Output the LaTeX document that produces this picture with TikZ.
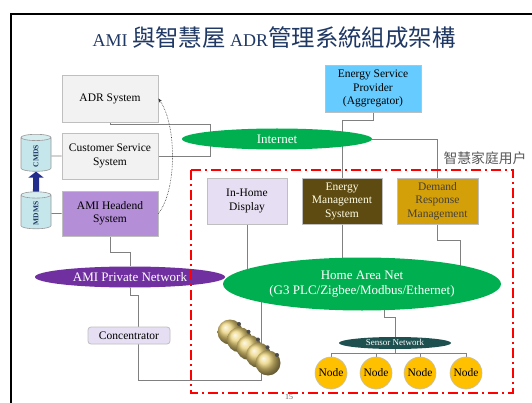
\documentclass[tikz,border=0pt]{standalone}
\usepackage{fontspec}
\setmainfont{Liberation Serif}
\newfontfamily\cjk{Noto Sans CJK TC}[Scale=1.2]
\newfontfamily\cjktitle{Noto Sans CJK TC}[Scale=1.3]
\usetikzlibrary{arrows.meta,positioning,shapes.geometric}
\definecolor{navy}{RGB}{31,56,100}
\definecolor{edge}{RGB}{191,191,191}
\definecolor{wire}{RGB}{128,128,128}
\definecolor{paleg}{RGB}{242,242,242}
\definecolor{headend}{RGB}{180,142,215}
\definecolor{sky}{RGB}{102,204,255}
\definecolor{lilac}{RGB}{230,222,242}
\definecolor{umber}{RGB}{94,75,18}
\definecolor{gold}{RGB}{212,160,10}
\definecolor{brass}{RGB}{235,210,120}
\definecolor{netgreen}{RGB}{0,176,80}
\definecolor{netpurple}{RGB}{112,48,160}
\definecolor{teal}{RGB}{30,80,80}
\definecolor{amber}{RGB}{255,192,0}
\definecolor{store}{RGB}{197,230,234}
\definecolor{royal}{RGB}{35,45,140}
\pgfdeclarelayer{bg}
\pgfsetlayers{bg,main}

\begin{document}
\begin{tikzpicture}[
    x=1pt, y=-1pt,
    node distance=8pt,
    every node/.style={font=\fontsize{11.5}{13.5}\selectfont},
    box/.style={
      rectangle,
      draw=edge,
      line width=0.8pt,
      fill=paleg,
      align=center,
      inner sep=1pt,
      minimum width=96,
      minimum height=46
    },
    smallbox/.style={box, minimum width=80},
    net/.style={
      ellipse,
      fill=netgreen,
      text=white,
      inner sep=0pt,
      align=center,
      font=\fontsize{13}{15}\selectfont
    },
    db/.style={
      cylinder,
      draw=edge!80!black,
      line width=0.6pt,
      cylinder uses custom fill,
      cylinder body fill=store,
      cylinder end fill=store!70!white,
      aspect=0.25,
      shape border rotate=90,
      minimum width=30,
      minimum height=37,
      inner xsep=10pt,
      inner ysep=0pt,
      text=navy,
      font=\fontsize{7.5}{8}\selectfont\bfseries
    },
    sensor/.style={
      circle,
      draw=edge,
      line width=0.6pt,
      fill=amber,
      minimum size=32,
      inner sep=0pt
    },
    conn/.style={draw=wire, line width=0.8pt},
    uparr/.style={-{Triangle[length=6pt,width=15pt]}, line width=6pt, draw=royal}
  ]
    \useasboundingbox (0,0) rectangle (532,403);
    \draw[line width=2pt] (10.5,403) -- (10.5,14) -- (532,14);

    \node[font=\fontsize{18}{20}\selectfont, text=navy] (head) at (274,38)
      {AMI {\cjktitle 與智慧屋} ADR{\cjktitle 管理系統組成架構}};

    \node[box, minimum height=47] (adr) at (110,98.5) {ADR System};
    \node[box] (css) at (110,156) {Customer Service\\System};
    \node[box, fill=headend, minimum height=45] (ami) at (110,213.5) {AMI Headend\\System};
    \node[box, fill=sky, minimum height=47] (esp) at (373,88.5) {Energy Service\\Provider\\(Aggregator)};

    \node[db] (cmds) at (36,156) {\rotatebox{90}{CMDS}};
    \node[db] (mdms) at (36,213.5) {\rotatebox{90}{MDMS}};

    \node[smallbox, fill=lilac] (ihd) at (247,201) {In-Home\\Display};
    \node[smallbox, fill=umber, text=white!90!yellow] (ems) at (342,201) {Energy\\Management\\System};
    \node[smallbox, fill=gold, text=black!85!yellow, minimum width=81] (drm) at (437.5,201) {Demand\\Response\\Management};

    \node[box, fill=lilac, rounded corners=3pt, minimum width=82, minimum height=17] (conc) at (129,335.5) {Concentrator};

    \node[net, minimum width=190, minimum height=21] (inet) at (277,139) {Internet};
    \node[net, fill=netpurple, minimum width=190, minimum height=21] (apn) at (130,277) {AMI Private Network};
    \node[net, minimum width=278, minimum height=53] (han) at (362,284) {Home Area Net\\(G3 PLC/Zigbee/Modbus/Ethernet)};
    \node[net, fill=teal, minimum width=112, minimum height=12, text height=5pt, text depth=1pt,
      font=\fontsize{9}{10}\selectfont] (sens) at (395,343) {Sensor Network};

    \foreach \i/\x in {1/331,2/376,3/420,4/466}
      \node[sensor] (n\i) at (\x,373) {Node};

    \node[text=black!65, font=\fontsize{11.5}{13}\selectfont] (home) at (485,158) {\cjk 智慧家庭用户};

    \draw[red, line width=1.6pt, dash pattern=on 10pt off 4pt on 2pt off 4pt]
      (191,170) rectangle (513,393);

    \foreach \k in {0,...,4} {
      \shade[ball color=brass] (230+9.5*\k,332+7.75*\k) circle (12.5);
      \fill[black!70] (239+9.5*\k,324+7.75*\k) circle (2);
    }

    \node[text=black!60, font=\fontsize{8}{9}\selectfont] (page) at (289,397) {15};

    \coordinate (hub) at (210,156);
    \coordinate (tap) at (138,380);

    \begin{pgfonlayer}{bg}
      \fill[white] (0,0) rectangle (532,403);
      \draw[conn] (cmds) -- (css);
      \draw[conn] (mdms) -- (ami);
      \draw[conn] (adr.south) -- ++(0,2) -| (hub) -- (css.east);
      \draw[conn] (esp.south) -- ++(0,8) -| (ems.north);
      \draw[conn] (inet.east) -| (drm.north);
      \draw[conn] (ihd) -- (ihd |- han);
      \draw[conn] (ems) -- (ems |- han);
      \draw[conn] (drm.south) -- ++(0,16) -| ([xshift=98pt]han.center);
      \draw[conn] (ami.south) -- ++(0,16) -| (apn);
      \draw[conn] (apn) -- ++(0,18) -| (tap) -| ([xshift=-101pt]han.center);
      \draw[conn] ([xshift=22pt]han.center) -- ++(0,33) -| (sens.center);
      \foreach \i in {1,...,4}
        \draw[conn] (sens.center) -- ++(0,10) -| (n\i.north);
    \end{pgfonlayer}

    \draw[black!80, densely dotted, line width=0.6pt, -{Stealth[length=4pt]}]
      (ami.east) .. controls (177,190) and (177,125) .. (adr.east);
    \draw[uparr] (mdms) -- (cmds);
  \end{tikzpicture}
\end{document}
